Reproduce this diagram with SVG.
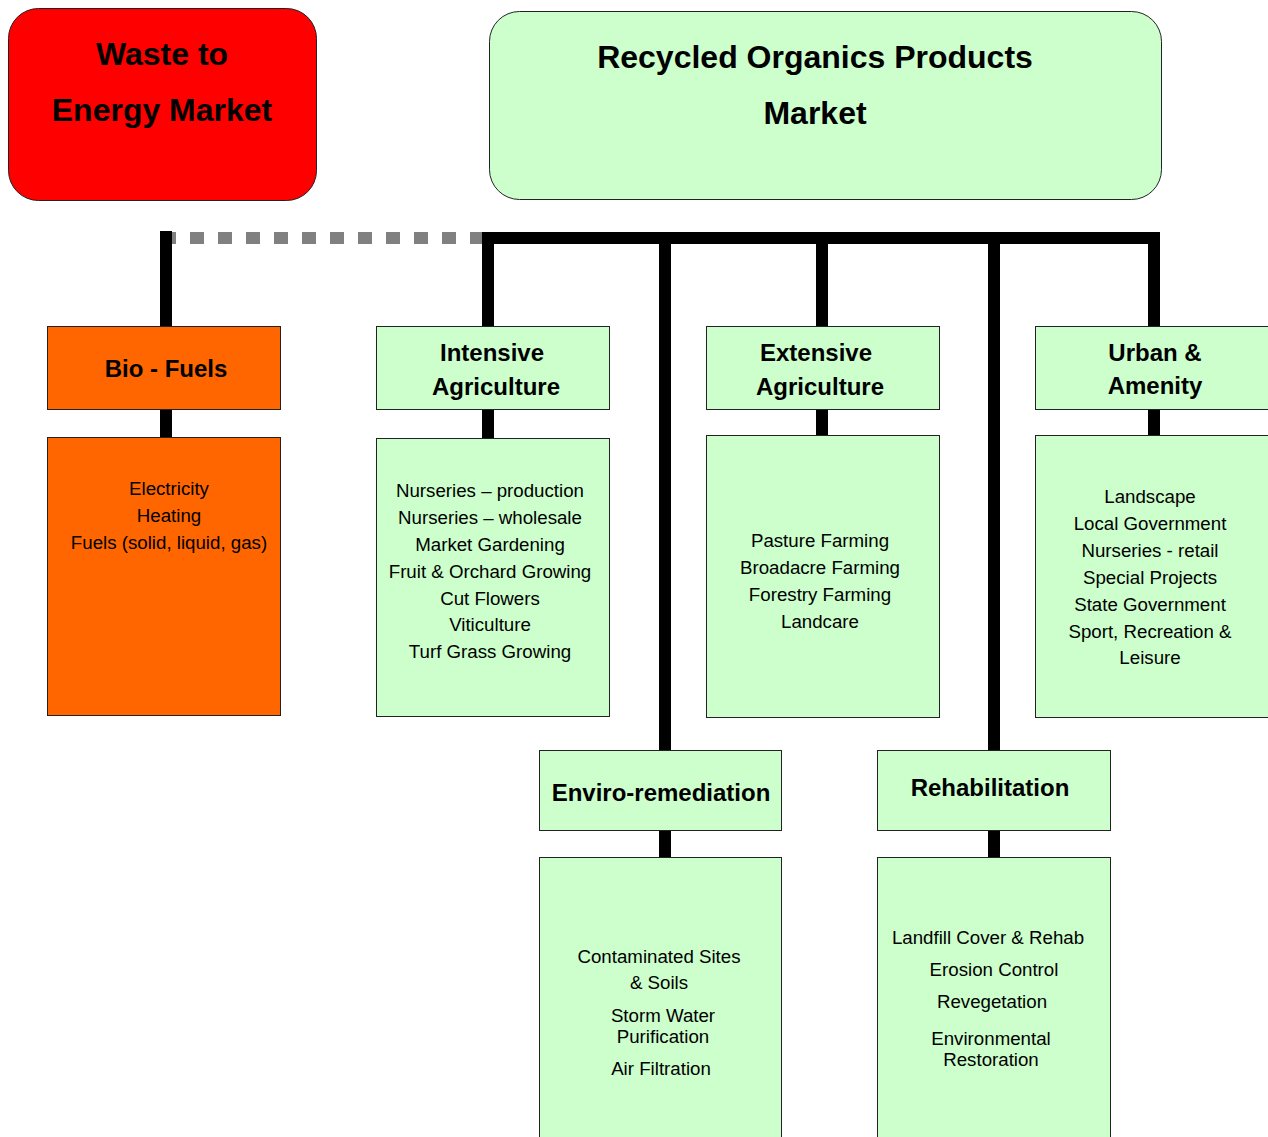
<svg xmlns="http://www.w3.org/2000/svg" width="1268" height="1137" viewBox="0 0 1268 1137">
<style>
.g{fill:#ccffcc;stroke:#222;stroke-width:1}
.o{fill:#ff6600;stroke:#222;stroke-width:1}
.r{fill:#ff0000;stroke:#222;stroke-width:1}
text{font-family:"Liberation Sans",Arial,sans-serif;fill:#000;text-anchor:middle}
.t{font-size:32px;font-weight:bold}
.h{font-size:24px;font-weight:bold}
.b{font-size:18.7px}
.c{stroke:#000;stroke-width:12;fill:none}
</style>
<rect width="1268" height="1137" fill="#fff"/>
<g id="connectors">
<line x1="172" y1="238" x2="482" y2="238" stroke="#808080" stroke-width="12" stroke-dasharray="14 14" stroke-dashoffset="10"/>
<line class="c" x1="166" y1="231" x2="166" y2="326"/>
<line class="c" x1="482" y1="238" x2="1160" y2="238"/>
<line class="c" x1="488" y1="232" x2="488" y2="326"/>
<line class="c" x1="665" y1="238" x2="665" y2="750"/>
<line class="c" x1="822" y1="238" x2="822" y2="326"/>
<line class="c" x1="994" y1="238" x2="994" y2="750"/>
<line class="c" x1="1154" y1="232" x2="1154" y2="326"/>
<line class="c" x1="166" y1="410" x2="166" y2="437"/>
<line class="c" x1="488" y1="410" x2="488" y2="438"/>
<line class="c" x1="822" y1="410" x2="822" y2="435"/>
<line class="c" x1="1154" y1="410" x2="1154" y2="435"/>
<line class="c" x1="665" y1="830" x2="665" y2="857"/>
<line class="c" x1="994" y1="830" x2="994" y2="857"/>
</g>
<g id="waste">
<rect class="r" x="8.5" y="8.5" width="308" height="192" rx="30"/>
<text class="t" x="162" y="65">Waste to</text>
<text class="t" x="162" y="121">Energy Market</text>
</g>
<g id="recycled">
<rect class="g" x="489.5" y="11.5" width="672" height="188" rx="30"/>
<text class="t" x="815" y="68">Recycled Organics Products</text>
<text class="t" x="815" y="124">Market</text>
</g>
<g id="biofuels">
<rect class="o" x="47.5" y="326.5" width="233" height="83"/>
<text class="h" x="166" y="377">Bio - Fuels</text>
</g>
<g id="biofuels-list">
<rect class="o" x="47.5" y="437.5" width="233" height="278"/>
<text class="b" x="169" y="495">Electricity</text>
<text class="b" x="169" y="522">Heating</text>
<text class="b" x="169" y="549">Fuels (solid, liquid, gas)</text>
</g>
<g id="intensive">
<rect class="g" x="376.5" y="326.5" width="233" height="83"/>
<text class="h" x="492" y="361">Intensive</text>
<text class="h" x="496" y="395">Agriculture</text>
</g>
<g id="intensive-list">
<rect class="g" x="376.5" y="438.5" width="233" height="278"/>
<text class="b" x="490" y="497">Nurseries – production</text>
<text class="b" x="490" y="524">Nurseries – wholesale</text>
<text class="b" x="490" y="551">Market Gardening</text>
<text class="b" x="490" y="578">Fruit &amp; Orchard Growing</text>
<text class="b" x="490" y="605">Cut Flowers</text>
<text class="b" x="490" y="631">Viticulture</text>
<text class="b" x="490" y="658">Turf Grass Growing</text>
</g>
<g id="extensive">
<rect class="g" x="706.5" y="326.5" width="233" height="83"/>
<text class="h" x="816" y="361">Extensive</text>
<text class="h" x="820" y="395">Agriculture</text>
</g>
<g id="extensive-list">
<rect class="g" x="706.5" y="435.5" width="233" height="282"/>
<text class="b" x="820" y="547">Pasture Farming</text>
<text class="b" x="820" y="574">Broadacre Farming</text>
<text class="b" x="820" y="601">Forestry Farming</text>
<text class="b" x="820" y="628">Landcare</text>
</g>
<g id="urban">
<rect class="g" x="1035.5" y="326.5" width="240" height="83"/>
<text class="h" x="1155" y="361">Urban &amp;</text>
<text class="h" x="1155" y="394">Amenity</text>
</g>
<g id="urban-list">
<rect class="g" x="1035.5" y="435.5" width="240" height="282"/>
<text class="b" x="1150" y="503">Landscape</text>
<text class="b" x="1150" y="530">Local Government</text>
<text class="b" x="1150" y="557">Nurseries - retail</text>
<text class="b" x="1150" y="584">Special Projects</text>
<text class="b" x="1150" y="611">State Government</text>
<text class="b" x="1150" y="638">Sport, Recreation &amp;</text>
<text class="b" x="1150" y="664">Leisure</text>
</g>
<g id="enviro">
<rect class="g" x="539.5" y="750.5" width="242" height="80"/>
<text class="h" x="661" y="801">Enviro-remediation</text>
</g>
<g id="enviro-list">
<rect class="g" x="539.5" y="857.5" width="242" height="290"/>
<text class="b" x="659" y="963">Contaminated Sites</text>
<text class="b" x="659" y="989">&amp; Soils</text>
<text class="b" x="663" y="1022">Storm Water</text>
<text class="b" x="663" y="1043">Purification</text>
<text class="b" x="661" y="1075">Air Filtration</text>
</g>
<g id="rehab">
<rect class="g" x="877.5" y="750.5" width="233" height="80"/>
<text class="h" x="990" y="796">Rehabilitation</text>
</g>
<g id="rehab-list">
<rect class="g" x="877.5" y="857.5" width="233" height="290"/>
<text class="b" x="988" y="944">Landfill Cover &amp; Rehab</text>
<text class="b" x="994" y="976">Erosion Control</text>
<text class="b" x="992" y="1008">Revegetation</text>
<text class="b" x="991" y="1045">Environmental</text>
<text class="b" x="991" y="1066">Restoration</text>
</g>
</svg>
